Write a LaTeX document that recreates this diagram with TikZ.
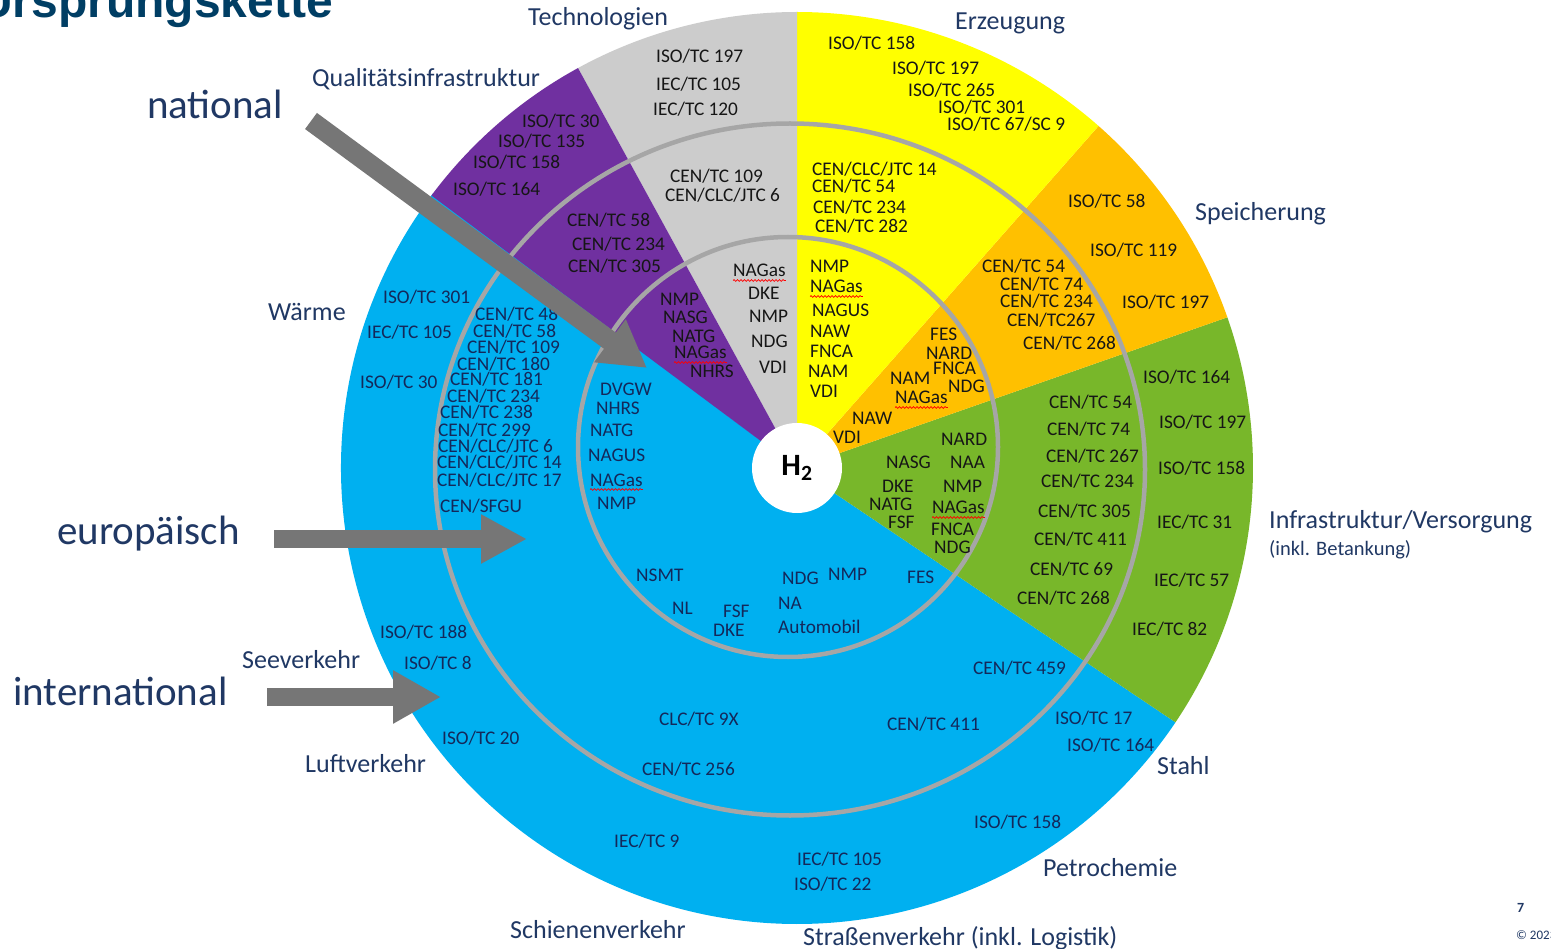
\documentclass[tikz,border=0pt]{standalone}
\usepackage{fontspec}
\setmainfont{Carlito}
\newfontfamily\titlefont{Liberation Sans}
\usetikzlibrary{arrows.meta,decorations.pathmorphing}
\definecolor{cBlue}{RGB}{0,176,240}
\definecolor{cYel}{RGB}{255,255,0}
\definecolor{cOra}{RGB}{255,192,0}
\definecolor{cGre}{RGB}{120,183,42}
\definecolor{cPur}{RGB}{112,48,160}
\definecolor{cGra}{RGB}{204,204,204}
\definecolor{cRing}{RGB}{166,166,166}
\definecolor{cArr}{RGB}{118,118,118}
\definecolor{cNavy}{RGB}{32,56,100}
\definecolor{cTitle}{RGB}{0,62,100}
\definecolor{cTxt}{RGB}{22,22,22}
\definecolor{cBT}{RGB}{20,40,90}
\tikzset{
  lab/.style={font=\fontsize{19.3}{19}\selectfont, inner sep=0pt, text=cTxt},
  cat/.style={font=\fontsize{26}{26}\selectfont, inner sep=0pt, text=cNavy},
  big/.style={font=\fontsize{41}{41}\selectfont, inner sep=0pt, text=cNavy},
  ring/.style={draw=cRing, line width=4.5pt},
  squig/.style={draw=red, line width=0.7pt, decorate, decoration={snake, amplitude=0.9pt, segment length=3.5pt}}
}
\newcommand{\tlab}[4]{\node[lab,anchor=base west] (#1) at (#2,#3+6) {#4};}
\newcommand{\blab}[4]{\node[lab,text=cBT,anchor=base west] (#1) at (#2,#3+6) {#4};}
\newcommand{\clab}[4]{\node[cat,anchor=base west] (#1) at (#2,#3+8.5) {#4};}
\newcommand{\sq}[1]{\draw[squig] ([yshift=-3.5pt]#1.base west) -- ([yshift=-3.5pt]#1.base east);}
\begin{document}
\begin{tikzpicture}[x=1pt,y=-1pt]
\useasboundingbox (0,0) rectangle (1551,949);
\fill[white] (0,0) rectangle (1551,949);
\coordinate (C) at (797,468);
% sectors
\fill[cBlue] (C) -- +(-143:456) arc[start angle=-143,end angle=-326.1,radius=456] -- cycle;
\fill[cGre] (C) -- +(33.9:456) arc[start angle=33.9,end angle=-19.3,radius=456] -- cycle;
\fill[cOra] (C) -- +(-19.3:456) arc[start angle=-19.3,end angle=-48.6,radius=456] -- cycle;
\fill[cYel] (C) -- +(-48.6:456) arc[start angle=-48.6,end angle=-90,radius=456] -- cycle;
\fill[cGra] (C) -- +(-90:456) arc[start angle=-90,end angle=-118.7,radius=456] -- cycle;
\fill[cPur] (C) -- +(-118.7:456) arc[start angle=-118.7,end angle=-143.3,radius=456] -- cycle;
% rings
\draw[ring] (790,469.5) ellipse[x radius=355, y radius=346];
\draw[ring] (788,447) circle[radius=210];
% centre
\node[circle, fill=white, minimum size=90pt, inner sep=0pt] (H) at (C) {\fontsize{31}{31}\selectfont\bfseries H\textsubscript{2}};
% title and page marks
\node[font=\fontsize{48}{48}\titlefont\bfseries, text=cTitle, inner sep=0pt, anchor=base east] (title) at (333,18) {Ursprungskette};
\node[font=\fontsize{14}{14}\selectfont\bfseries, text=cNavy, inner sep=0pt, anchor=base west] (pg) at (1517,912) {7};
\node[font=\fontsize{13}{13}\selectfont, text=cNavy, inner sep=0pt, anchor=base west] (copy) at (1516,939) {© 2023};
% category labels
\clab{k1}{528}{17}{Technologien}
\clab{k2}{955}{21}{Erzeugung}
\clab{k3}{312}{78}{Qualitätsinfrastruktur}
\clab{k4}{1195}{212}{Speicherung}
\clab{k5}{268}{312}{Wärme}
\clab{k6}{1269}{520}{Infrastruktur/Versorgung}
\node[font=\fontsize{20.5}{20}\selectfont, inner sep=0pt, text=cNavy, anchor=base west] (k6b) at (1269,555) {(inkl. Betankung)};
\clab{k7}{242}{660}{Seeverkehr}
\clab{k8}{305}{764}{Luftverkehr}
\clab{k9}{1157}{766}{Stahl}
\clab{k10}{1043}{868}{Petrochemie}
\clab{k11}{510}{930}{Schienenverkehr}
\clab{k12}{803}{937}{Straßenverkehr (inkl. Logistik)}
\node[big,anchor=base west] (bn) at (147,119) {national};
\node[big,anchor=base west] (be) at (57,544) {europäisch};
\node[big,anchor=base west] (bi) at (13,705) {international};
% grey sector
\tlab{gO1}{656}{57}{ISO/TC 197}
\tlab{gO2}{656}{85}{IEC/TC 105}
\tlab{gO3}{653}{110}{IEC/TC 120}
\tlab{gM1}{670}{177}{CEN/TC 109}
\tlab{gM2}{665}{196}{CEN/CLC/JTC 6}
\tlab{gI1}{733}{271}{NAGas}
\tlab{gI2}{748}{294}{DKE}
\tlab{gI3}{749}{317}{NMP}
\tlab{gI4}{751}{342}{NDG}
\tlab{gI5}{759}{368}{VDI}
% purple sector
\tlab{pO1}{522}{122}{ISO/TC 30}
\tlab{pO2}{498}{142}{ISO/TC 135}
\tlab{pO3}{473}{163}{ISO/TC 158}
\tlab{pO4}{453}{190}{ISO/TC 164}
\tlab{pM1}{567}{221}{CEN/TC 58}
\tlab{pM2}{572}{245}{CEN/TC 234}
\tlab{pM3}{568}{267}{CEN/TC 305}
\tlab{pI1}{660}{300}{NMP}
\tlab{pI2}{663}{318}{NASG}
\tlab{pI3}{672}{337}{NATG}
\tlab{pI4}{674}{353}{NAGas}
\tlab{pI5}{690}{372}{NHRS}
% yellow sector
\tlab{yO1}{828}{44}{ISO/TC 158}
\tlab{yO2}{892}{69}{ISO/TC 197}
\tlab{yO3}{908}{91}{ISO/TC 265}
\tlab{yO4}{938}{108}{ISO/TC 301}
\tlab{yO5}{947}{125}{ISO/TC 67/SC 9}
\tlab{yM1}{812}{170}{CEN/CLC/JTC 14}
\tlab{yM2}{812}{187}{CEN/TC 54}
\tlab{yM3}{813}{208}{CEN/TC 234}
\tlab{yM4}{815}{227}{CEN/TC 282}
\tlab{yI1}{810}{267}{NMP}
\tlab{yI2}{810}{287}{NAGas}
\tlab{yI3}{812}{311}{NAGUS}
\tlab{yI4}{810}{332}{NAW}
\tlab{yI5}{810}{352}{FNCA}
\tlab{yI6}{808}{372}{NAM}
\tlab{yI7}{810}{392}{VDI}
% orange sector
\tlab{oO1}{1068}{202}{ISO/TC 58}
\tlab{oO2}{1090}{251}{ISO/TC 119}
\tlab{oO3}{1122}{303}{ISO/TC 197}
\tlab{oM1}{982}{267}{CEN/TC 54}
\tlab{oM2}{1000}{285}{CEN/TC 74}
\tlab{oM3}{1000}{302}{CEN/TC 234}
\tlab{oM4}{1007}{321}{CEN/TC267}
\tlab{oM5}{1023}{344}{CEN/TC 268}
\tlab{oI1}{930}{335}{FES}
\tlab{oI2}{926}{354}{NARD}
\tlab{oI3}{933}{369}{FNCA}
\tlab{oI4}{948}{387}{NDG}
\tlab{oI5}{890}{379}{NAM}
\tlab{oI6}{895}{398}{NAGas}
\tlab{oI7}{852}{419}{NAW}
\tlab{oI8}{833}{438}{VDI}
% green sector
\tlab{eO1}{1143}{378}{ISO/TC 164}
\tlab{eO2}{1159}{423}{ISO/TC 197}
\tlab{eO3}{1158}{469}{ISO/TC 158}
\tlab{eO4}{1157}{523}{IEC/TC 31}
\tlab{eO5}{1154}{580}{IEC/TC 57}
\tlab{eO6}{1132}{629}{IEC/TC 82}
\tlab{eM1}{1049}{403}{CEN/TC 54}
\tlab{eM2}{1047}{430}{CEN/TC 74}
\tlab{eM3}{1046}{457}{CEN/TC 267}
\tlab{eM4}{1041}{482}{CEN/TC 234}
\tlab{eM5}{1038}{512}{CEN/TC 305}
\tlab{eM6}{1034}{539}{CEN/TC 411}
\tlab{eM7}{1030}{569}{CEN/TC 69}
\tlab{eM8}{1017}{598}{CEN/TC 268}
\tlab{eI1}{941}{440}{NARD}
\tlab{eI2}{886}{462}{NASG}
\tlab{eI3}{950}{462}{NAA}
\tlab{eI4}{882}{487}{DKE}
\tlab{eI5}{943}{487}{NMP}
\tlab{eI6}{869}{505}{NATG}
\tlab{eI7}{932}{508}{NAGas}
\tlab{eI8}{888}{522}{FSF}
\tlab{eI9}{931}{529}{FNCA}
\tlab{eI10}{934}{547}{NDG}
% blue sector
\blab{bO1}{383}{298}{ISO/TC 301}
\blab{bO2}{367}{333}{IEC/TC 105}
\blab{bO3}{360}{383}{ISO/TC 30}
\blab{bM1}{475}{315}{CEN/TC 48}
\blab{bM2}{473}{332}{CEN/TC 58}
\blab{bM3}{467}{348}{CEN/TC 109}
\blab{bM4}{457}{365}{CEN/TC 180}
\blab{bM5}{450}{380}{CEN/TC 181}
\blab{bM6}{447}{397}{CEN/TC 234}
\blab{bM7}{440}{413}{CEN/TC 238}
\blab{bM8}{438}{431}{CEN/TC 299}
\blab{bM9}{438}{447}{CEN/CLC/JTC 6}
\blab{bM10}{437}{463}{CEN/CLC/JTC 14}
\blab{bM11}{437}{480}{CEN/CLC/JTC 17}
\blab{bM12}{440}{506}{CEN/SFGU}
\blab{bI1}{600}{390}{DVGW}
\blab{bI2}{596}{409}{NHRS}
\blab{bI3}{590}{431}{NATG}
\blab{bI4}{588}{456}{NAGUS}
\blab{bI5}{590}{480}{NAGas}
\blab{bI6}{597}{504}{NMP}
\blab{bI7}{636}{575}{NSMT}
\blab{bI8}{672}{608}{NL}
\blab{bI9}{723}{611}{FSF}
\blab{bI10}{713}{630}{DKE}
\blab{bI11}{782}{578}{NDG}
\blab{bI12}{828}{574}{NMP}
\blab{bI13}{778}{603}{NA}
\blab{bI14}{778}{627}{Automobil}
\blab{bI15}{907}{577}{FES}
\blab{bM13}{659}{719}{CLC/TC 9X}
\blab{bM14}{642}{769}{CEN/TC 256}
\blab{bM15}{887}{724}{CEN/TC 411}
\blab{bM16}{973}{668}{CEN/TC 459}
\blab{bO4}{380}{632}{ISO/TC 188}
\blab{bO5}{404}{663}{ISO/TC 8}
\blab{bO6}{442}{738}{ISO/TC 20}
\blab{bO7}{614}{841}{IEC/TC 9}
\blab{bO8}{797}{859}{IEC/TC 105}
\blab{bO9}{794}{884}{ISO/TC 22}
\blab{bO10}{974}{822}{ISO/TC 158}
\blab{bO11}{1055}{718}{ISO/TC 17}
\blab{bO12}{1067}{745}{ISO/TC 164}
% spell-check squiggles
\sq{gI1} \sq{pI4} \sq{yI2} \sq{oI6} \sq{eI7} \sq{bI5}
% arrows
\coordinate (nT) at (311,121); \coordinate (nH) at (647,368);
\coordinate (eT) at (274,539); \coordinate (eH) at (527,539);
\coordinate (iT) at (267,697); \coordinate (iH) at (441,697);
\draw[cArr, line width=20pt, -{Triangle[length=46pt,width=50pt]}] (nT) -- (nH);
\draw[cArr, line width=18pt, -{Triangle[length=46pt,width=46pt]}] (eT) -- (eH);
\draw[cArr, line width=18pt, -{Triangle[length=48pt,width=50pt]}] (iT) -- (iH);
\end{tikzpicture}
\end{document}
